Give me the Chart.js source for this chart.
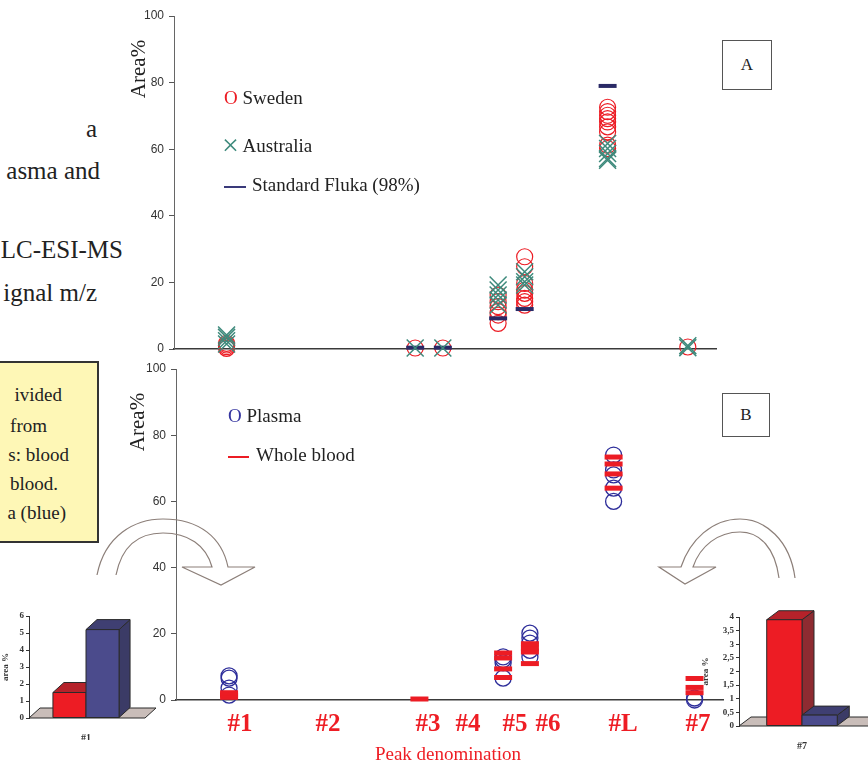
<!DOCTYPE html>
<html>
<head>
<meta charset="utf-8">
<script src="https://cdn.jsdelivr.net/npm/chart.js@4.4.1/dist/chart.umd.min.js"></script>
<style>
    body { margin: 0; background: #fff; }
    #stage { position: relative; width: 868px; height: 763px; overflow: hidden; font-family: "Liberation Serif", "Times New Roman", serif; color: #222; }
    .t { position: absolute; white-space: nowrap; line-height: 1; }
    canvas { position: absolute; }
    .slide { font-size: 25px; }
    .note { font-size: 19px; }
    .leg { font-size: 19px; }
    .peak { font-size: 25px; font-weight: bold; color: #ee1d24; transform: translateX(-50%); }
    .box { position: absolute; border: 1.5px solid #555; font-size: 17px; display: flex; align-items: center; justify-content: center; background: #fff; }
    .ytitle { font-size: 21px; transform: translate(-50%, -50%) rotate(-90deg); }
</style>
</head>
<body>
<div id="stage">
    <div class="t slide" style="right:771px;top:116px">a</div>
    <div class="t slide" style="right:768px;top:158px">asma and</div>
    <div class="t slide" style="right:745px;top:237px">LC-ESI-MS</div>
    <div class="t slide" style="right:771px;top:280px">ignal m/z</div>

    <div style="position:absolute;left:-3px;top:361px;width:98px;height:178px;background:#fef7b6;border:2px solid #333;"></div>
    <div class="t note" style="right:806px;top:385px">ivided</div>
    <div class="t note" style="right:821px;top:416px">from</div>
    <div class="t note" style="right:799px;top:445px">s: blood</div>
    <div class="t note" style="right:810px;top:474px">blood.</div>
    <div class="t note" style="right:802px;top:503px">a (blue)</div>

    <canvas id="chartA" width="600" height="370" style="left:120px;top:0"></canvas>
    <canvas id="chartB" width="607" height="370" style="left:120px;top:355px"></canvas>
    <canvas id="inset1" width="160" height="140" style="left:0;top:600px"></canvas>
    <canvas id="inset7" width="168" height="150" style="left:700px;top:600px"></canvas>

    <svg width="868" height="763" style="position:absolute;left:0;top:0;pointer-events:none">
        <path d="M 97 575 C 105 535, 135 519, 163 519 C 200 519, 222 538, 228 567 L 255 567 L 221 585 L 182 567 L 212 567 C 206 545, 188 533, 163 533 C 140 533, 122 545, 116 575"
              fill="none" stroke="#8c7f79" stroke-width="1.2"/>
        <path d="M 795 578 C 790 540, 765 519, 740 519 C 712 519, 690 540, 681 567 L 659 567 L 685 584 L 716 567 L 693 567 C 700 546, 718 532, 740 532 C 760 532, 775 548, 779 578"
              fill="none" stroke="#8c7f79" stroke-width="1.2"/>
    </svg>

    <div class="t ytitle" style="left:138px;top:69px">Area%</div>
    <div class="t ytitle" style="left:137px;top:422px">Area%</div>

    <div class="t leg" style="left:224px;top:88px"><span style="color:#ec1c24">O</span> Sweden</div>
    <div class="t leg" style="left:222px;top:135px"><span style="color:#3e8a7c;font-size:30px;line-height:19px;vertical-align:-3px">×</span> Australia</div>
    <div class="t leg" style="left:224px;top:175px"><span style="display:inline-block;width:22px;height:2px;background:#3a3a7a;vertical-align:middle;margin-right:6px"></span>Standard Fluka (98%)</div>
    <div class="t leg" style="left:228px;top:406px"><span style="color:#3535a0">O</span> Plasma</div>
    <div class="t leg" style="left:228px;top:445px"><span style="display:inline-block;width:21px;height:2px;background:#ec1c24;vertical-align:middle;margin-right:7px"></span>Whole blood</div>

    <div class="box" style="left:722px;top:40px;width:48px;height:48px">A</div>
    <div class="box" style="left:722px;top:393px;width:46px;height:42px">B</div>

    <div class="t peak" style="left:240px;top:710px">#1</div>
    <div class="t peak" style="left:328px;top:710px">#2</div>
    <div class="t peak" style="left:428px;top:710px">#3</div>
    <div class="t peak" style="left:468px;top:710px">#4</div>
    <div class="t peak" style="left:515px;top:710px">#5</div>
    <div class="t peak" style="left:548px;top:710px">#6</div>
    <div class="t peak" style="left:623px;top:710px">#L</div>
    <div class="t peak" style="left:698px;top:710px">#7</div>
    <div class="t" style="left:448px;top:744px;transform:translateX(-50%);font-size:19px;color:#ee1d24">Peak denomination</div>
</div>

<script>
// peaks that carry points, and where they sit along the elution axis (0-100)
const peakNames = ['#1', '#3', '#4', '#5', '#6', '#L', '#7'];
const peakX = [9.7, 44.5, 49.6, 59.8, 64.7, 80, 94.8];

// panel A: Area% per peak, one list per peak
const swedenArea = [
    [0.2, 0.7, 1.2, 1.7],
    [0.3],
    [0.3],
    [7.7, 10.2, 11.2, 12.7, 14.2, 16.2],
    [13.2, 14.2, 15.2, 16.7, 17.7, 19.7, 24.7, 27.7],
    [60.2, 61.2, 65.2, 66.7, 68.2, 69.2, 70.2, 71.3, 72.6],
    [0.6]
];
const australiaArea = [
    [1.5, 2.5, 3.5, 4.2],
    [0.3],
    [0.3],
    [13.2, 14.7, 16.2, 17.7, 19.2],
    [19.2, 20.2, 21.7, 23.2],
    [56.7, 57.2, 58.7, 60.2, 61.7],
    [0.4, 1.0]
];
const flukaArea = [[], [0.4], [0.4], [9.2], [12], [79], []];

// panel B
const plasmaArea = [
    [1.5, 3.6, 6.6, 7.3],
    [],
    [],
    [6.6, 11.2, 12.2, 13],
    [13, 15, 17.2, 18.7, 20.2],
    [60, 64, 68, 69.5, 74],
    [0, 0.6]
];
const bloodArea = [
    [0.8, 1.5, 2.2],
    [0.3],
    [],
    [6.8, 9.4, 12.7, 14.2],
    [11, 14.5, 15.7, 17],
    [64, 68.3, 71.3, 73.4],
    [2.2, 3.8, 6.5]
];

// insets: mean area% for whole blood / plasma
const insetSeries = ['Whole blood', 'Plasma'];
const inset1Values = [1.5, 5.2];
const inset7Values = [3.9, 0.4];

const serif = 'Liberation Serif';

function toPoints(rows) {
    return rows.flatMap((vals, i) => vals.map((v) => ({ x: peakX[i], y: v })));
}

function scatterChart(id, datasets, yWidth, padding) {
    return new Chart(document.getElementById(id), {
        type: 'scatter',
        data: { datasets },
        options: {
            responsive: false,
            animation: false,
            devicePixelRatio: 1,
            layout: { padding, autoPadding: false },
            plugins: { legend: { display: false }, tooltip: { enabled: false } },
            scales: {
                x: {
                    type: 'linear', min: 0, max: 100,
                    grid: { display: false },
                    ticks: { display: false },
                    border: { display: true, color: '#3a3a3a', width: 1.5 },
                    afterFit: (s) => { s.height = 0; s.paddingLeft = 0; s.paddingRight = 0; }
                },
                y: {
                    min: 0, max: 100,
                    ticks: { stepSize: 20, color: '#333', padding: 5, font: { family: 'Liberation Sans', size: 12 } },
                    grid: { drawOnChartArea: false, tickLength: 5, color: '#555' },
                    border: { display: true, color: '#666', width: 1 },
                    afterFit: (s) => { s.width = yWidth; }
                }
            }
        }
    });
}

scatterChart('chartA', [
    {
        label: 'Australia', data: toPoints(australiaArea), order: 1, clip: false,
        pointStyle: 'crossRot', pointRadius: 12, pointBorderWidth: 1.5,
        pointBorderColor: '#3e8a7c', pointBackgroundColor: 'transparent'
    },
    {
        label: 'Standard Fluka (98%)', data: toPoints(flukaArea), order: 2, clip: false,
        pointStyle: 'line', pointRadius: 9, pointBorderWidth: 4,
        pointBorderColor: '#2a2a66', pointBackgroundColor: 'transparent'
    },
    {
        label: 'Sweden', data: toPoints(swedenArea), order: 3, clip: false,
        pointStyle: 'circle', pointRadius: 8, pointBorderWidth: 1.2,
        pointBorderColor: '#ec1c24', pointBackgroundColor: 'transparent'
    }
], 54, { top: 16, bottom: 21, right: 4 });

scatterChart('chartB', [
    {
        label: 'Whole blood', data: toPoints(bloodArea), order: 1, clip: false,
        pointStyle: 'line', pointRadius: 9, pointBorderWidth: 5,
        pointBorderColor: '#ec1c24', pointBackgroundColor: 'transparent'
    },
    {
        label: 'Plasma', data: toPoints(plasmaArea), order: 2, clip: false,
        pointStyle: 'circle', pointRadius: 8, pointBorderWidth: 1.3,
        pointBorderColor: '#2d2d9a', pointBackgroundColor: 'transparent'
    }
], 56, { top: 14, bottom: 25, right: 4 });

// fake 3D look for the small bar charts: floor, side and top faces
const bar3d = {
    id: 'bar3d',
    beforeDatasetsDraw(chart, args, opts) {
        const { ctx, chartArea } = chart;
        const y0 = chart.scales.y.getPixelForValue(0);
        poly(ctx, [[chartArea.left, y0], [opts.floorRight, y0], [opts.floorRight + opts.dx, y0 - opts.dy], [chartArea.left + opts.dx, y0 - opts.dy]], '#c9bdb9');
    },
    afterDatasetsDraw(chart, args, opts) {
        const { ctx } = chart;
        const { dx, dy } = opts;
        chart.data.datasets.forEach((ds, i) => {
            chart.getDatasetMeta(i).data.forEach((bar) => {
                const l = bar.x - bar.width / 2;
                const r = bar.x + bar.width / 2;
                poly(ctx, [[r, bar.y], [r + dx, bar.y - dy], [r + dx, bar.base - dy], [r, bar.base]], ds.sideColor);
                poly(ctx, [[l, bar.y], [l + dx, bar.y - dy], [r + dx, bar.y - dy], [r, bar.y]], ds.topColor);
                poly(ctx, [[l, bar.y], [r, bar.y], [r, bar.base], [l, bar.base]], ds.backgroundColor);
            });
        });
    }
};

function poly(ctx, pts, fill) {
    ctx.save();
    ctx.beginPath();
    pts.forEach(([x, y], i) => (i ? ctx.lineTo(x, y) : ctx.moveTo(x, y)));
    ctx.closePath();
    ctx.fillStyle = fill;
    ctx.fill();
    ctx.strokeStyle = '#2a2a2a';
    ctx.lineWidth = 1;
    ctx.stroke();
    ctx.restore();
}

function insetChart(id, label, values, yMax, step, yWidth, xHeight, padding, catPct, depth) {
    const colors = [
        { backgroundColor: '#ed1c24', sideColor: '#8e2b31', topColor: '#b5222a' },
        { backgroundColor: '#4b4b8c', sideColor: '#3b3b66', topColor: '#3f3f72' }
    ];
    return new Chart(document.getElementById(id), {
        type: 'bar',
        data: {
            labels: [label],
            datasets: insetSeries.map((name, i) => ({
                label: name,
                data: [values[i]],
                borderColor: '#2a2a2a',
                borderWidth: 1,
                barPercentage: 1,
                categoryPercentage: catPct,
                ...colors[i]
            }))
        },
        options: {
            responsive: false,
            animation: false,
            devicePixelRatio: 1,
            layout: { padding, autoPadding: false },
            plugins: { legend: { display: false }, tooltip: { enabled: false }, bar3d: depth },
            scales: {
                x: {
                    grid: { display: false },
                    border: { display: false },
                    ticks: { color: '#333', padding: 6, font: { family: serif, size: 10, weight: 'bold' } },
                    afterFit: (s) => { s.height = xHeight; }
                },
                y: {
                    min: 0, max: yMax,
                    ticks: {
                        stepSize: step, autoSkip: false, color: '#333', padding: 2,
                        font: { family: serif, size: 9, weight: 'bold' },
                        callback: (v) => String(v).replace('.', ',')
                    },
                    grid: { drawOnChartArea: false, tickLength: 3, color: '#333' },
                    border: { display: true, color: '#333', width: 1 },
                    title: { display: true, text: 'area %', color: '#333', padding: 0, font: { family: serif, size: 9, weight: 'bold' } },
                    afterFit: (s) => { s.width = yWidth; }
                }
            }
        },
        plugins: [bar3d]
    });
}

insetChart('inset1', '#1', inset1Values, 6, 1, 29, 22, { top: 16, right: 17 }, 0.58, { dx: 11, dy: 10, floorRight: 145 });
insetChart('inset7', '#7', inset7Values, 4, 0.5, 39, 24, { top: 17, right: 3 }, 0.56, { dx: 12, dy: 9, floorRight: 880 });
</script>
</body>
</html>
